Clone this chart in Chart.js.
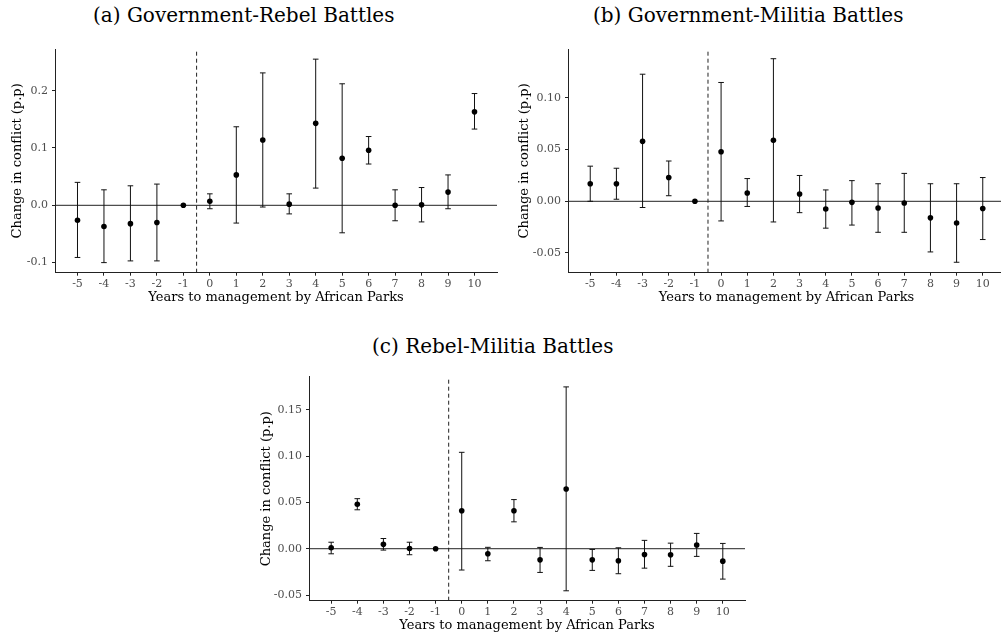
<!DOCTYPE html>
<html>
<head>
<meta charset="utf-8">
<script src="https://cdn.jsdelivr.net/npm/chart.js@4.4.0/dist/chart.umd.min.js"></script>
<style>
  html, body { margin: 0; padding: 0; background: #fff; overflow: hidden; width: 1001px; height: 638px; }
  canvas { position: absolute; }
  .title { position: absolute; font-family: 'DejaVu Serif', serif; font-size: 20px; line-height: 24px; color: #000; white-space: nowrap; }
</style>
</head>
<body>
<div class="title" style="left:93px;top:3px">(a) Government-Rebel Battles</div>
<div class="title" style="left:593px;top:3px">(b) Government-Militia Battles</div>
<div class="title" style="left:372px;top:334px">(c) Rebel-Militia Battles</div>
<canvas id="chartA" width="502" height="310" style="left:0;top:0"></canvas>
<canvas id="chartB" width="510" height="310" style="left:500px;top:0"></canvas>
<canvas id="chartC" width="510" height="308" style="left:240px;top:330px"></canvas>
<script>
// years relative to start of African Parks management
const years = [-5, -4, -3, -2, -1, 0, 1, 2, 3, 4, 5, 6, 7, 8, 9, 10];
const xTickLabels = ['-5', '-4', '-3', '-2', '-1', '0', '1', '2', '3', '4', '5', '6', '7', '8', '9', '10'];

// (a) Government-Rebel battles
const estA = [-0.026, -0.037, -0.032, -0.030, 0, 0.007, 0.053, 0.114, 0.002, 0.143, 0.082, 0.096, 0.000, 0.001, 0.023, 0.163];
const loA = [-0.091, -0.100, -0.097, -0.097, null, -0.006, -0.031, -0.003, -0.015, 0.030, -0.048, 0.072, -0.027, -0.029, -0.006, 0.133];
const hiA = [0.040, 0.027, 0.034, 0.037, null, 0.020, 0.137, 0.231, 0.020, 0.255, 0.212, 0.120, 0.027, 0.031, 0.053, 0.195];
const yTicksA = [-0.1, 0, 0.1, 0.2];
const yLabelsA = ['-0.1', '0.0', '0.1', '0.2'];

// (b) Government-Militia battles
const estB = [0.017, 0.017, 0.058, 0.023, 0, 0.048, 0.008, 0.059, 0.007, -0.0075, -0.001, -0.0065, -0.0017, -0.016, -0.021, -0.007];
const loB = [0.000, 0.002, -0.006, 0.0054, null, -0.019, -0.005, -0.020, -0.011, -0.026, -0.023, -0.030, -0.030, -0.049, -0.059, -0.037];
const hiB = [0.034, 0.032, 0.123, 0.039, null, 0.115, 0.022, 0.138, 0.025, 0.011, 0.020, 0.017, 0.027, 0.017, 0.017, 0.023];
const yTicksB = [-0.05, 0, 0.05, 0.1];
const yLabelsB = ['-0.05', '0.00', '0.05', '0.10'];

// (c) Rebel-Militia battles
const estC = [0.001, 0.048, 0.0047, 0.0003, 0, 0.041, -0.0055, 0.041, -0.012, 0.0644, -0.012, -0.013, -0.0062, -0.0065, 0.004, -0.0134];
const loC = [-0.0055, 0.042, -0.0015, -0.0065, null, -0.023, -0.013, 0.029, -0.0256, -0.0454, -0.0234, -0.027, -0.021, -0.019, -0.0083, -0.0328];
const hiC = [0.007, 0.054, 0.011, 0.007, null, 0.104, 0.0015, 0.053, 0.0014, 0.1746, -0.0008, 0.001, 0.009, 0.006, 0.0165, 0.0057];
const yTicksC = [-0.05, 0, 0.05, 0.1, 0.15];
const yLabelsC = ['-0.05', '0.00', '0.05', '0.10', '0.15'];

const xMin = -5.85;
const xMax = 10.85;
const treatLine = -0.5;

const serif = "'DejaVu Serif', serif";
const axisColor = '#222222';

function makeChart(id, est, lo, hi, yTicks, yLabels, yMin, yMax, box) {
  const errData = [];
  years.forEach((x, i) => {
    if (lo[i] == null) return;
    errData.push({ x, y: lo[i] }, { x, y: hi[i] }, { x, y: null });
  });

  return new Chart(document.getElementById(id), {
    type: 'scatter',
    data: {
      datasets: [
        {
          data: years.map((x, i) => ({ x, y: est[i] })),
          pointRadius: 2.8,
          pointBackgroundColor: '#000',
          pointBorderWidth: 0,
          order: 0
        },
        {
          type: 'line',
          data: errData,
          showLine: true,
          spanGaps: false,
          borderColor: '#111',
          borderWidth: 1,
          pointStyle: 'line',
          pointRadius: 2.8,
          pointBorderColor: '#111',
          pointBorderWidth: 1,
          order: 1
        },
        {
          type: 'line',
          data: [{ x: xMin, y: 0 }, { x: xMax, y: 0 }],
          borderColor: axisColor,
          borderWidth: 1,
          pointRadius: 0,
          order: 2
        },
        {
          type: 'line',
          data: [{ x: treatLine, y: yMin }, { x: treatLine, y: yMax }],
          borderColor: axisColor,
          borderWidth: 1,
          borderDash: [4, 3],
          pointRadius: 0,
          order: 3
        }
      ]
    },
    options: {
      responsive: false,
      animation: false,
      devicePixelRatio: 1,
      layout: { padding: box.padding },
      plugins: { legend: { display: false }, tooltip: { enabled: false } },
      scales: {
        x: {
          type: 'linear',
          position: 'bottom',
          min: xMin,
          max: xMax,
          afterBuildTicks: s => { s.ticks = years.map(v => ({ value: v })); },
          afterFit: s => { s.height = 33; },
          ticks: {
            autoSkip: false,
            maxRotation: 0,
            padding: 2,
            color: '#4d4d4d',
            font: { family: serif, size: 11 },
            callback: (v, i) => xTickLabels[i]
          },
          grid: { display: true, drawOnChartArea: false, drawTicks: true, tickLength: 3, color: axisColor },
          border: { display: true, color: axisColor, width: 1 },
          title: {
            display: true,
            text: 'Years to management by African Parks',
            color: '#000',
            font: { family: serif, size: 13 },
            padding: { top: 0, bottom: 0 }
          }
        },
        y: {
          type: 'linear',
          position: 'left',
          min: yMin,
          max: yMax,
          afterBuildTicks: s => { s.ticks = yTicks.map(v => ({ value: v })); },
          afterFit: s => { s.width = box.yWidth; },
          ticks: {
            padding: 4,
            color: '#4d4d4d',
            font: { family: serif, size: 11 },
            callback: (v, i) => yLabels[i]
          },
          grid: { display: true, drawOnChartArea: false, drawTicks: true, tickLength: 3, color: axisColor },
          border: { display: true, color: axisColor, width: 1 },
          title: {
            display: true,
            text: 'Change in conflict (p.p)',
            color: '#000',
            font: { family: serif, size: 13 },
            padding: { top: box.titlePad, bottom: 0 }
          }
        }
      }
    }
  });
}

makeChart('chartA', estA, loA, hiA, yTicksA, yLabelsA, -0.1176, 0.2727,
  { padding: { top: 49, left: 0, right: 2, bottom: 4.3 }, yWidth: 55, titlePad: 10 });
makeChart('chartB', estB, loB, hiB, yTicksB, yLabelsB, -0.0691, 0.1474,
  { padding: { top: 49, left: 0, right: 4, bottom: 4.3 }, yWidth: 68, titlePad: 17 });
makeChart('chartC', estC, loC, hiC, yTicksC, yLabelsC, -0.0561, 0.1856,
  { padding: { top: 46.7, left: 0, right: 2.3, bottom: 4.3 }, yWidth: 69, titlePad: 19 });
</script>
</body>
</html>
